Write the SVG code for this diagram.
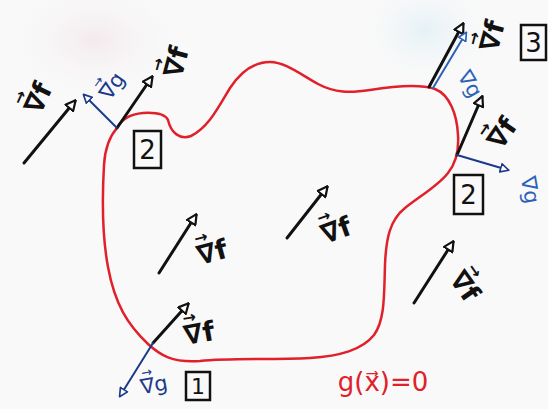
<svg xmlns="http://www.w3.org/2000/svg" width="548" height="409" viewBox="0 0 548 409">
  <defs>
    <marker id="hk" viewBox="0 0 12 12" refX="10" refY="6" markerWidth="12" markerHeight="12" markerUnits="userSpaceOnUse" orient="auto">
      <path d="M1,1 L11,6 L1,11 Z" fill="#fff" stroke="#111" stroke-width="2.2" stroke-linejoin="round"/>
    </marker>
    <marker id="hb" viewBox="0 0 12 12" refX="10" refY="6" markerWidth="10" markerHeight="10" markerUnits="userSpaceOnUse" orient="auto">
      <path d="M1,1 L11,6 L1,11 Z" fill="#fff" stroke="#1c3a8c" stroke-width="2" stroke-linejoin="round"/>
    </marker>
    <marker id="hl" viewBox="0 0 12 12" refX="10" refY="6" markerWidth="10" markerHeight="10" markerUnits="userSpaceOnUse" orient="auto">
      <path d="M1,1 L11,6 L1,11 Z" fill="#fff" stroke="#2b62b8" stroke-width="2" stroke-linejoin="round"/>
    </marker>
    <radialGradient id="smudge1" cx="0.5" cy="0.5" r="0.5">
      <stop offset="0" stop-color="#f1e6ea" stop-opacity="0.8"/>
      <stop offset="1" stop-color="#f8f8f8" stop-opacity="0"/>
    </radialGradient>
    <radialGradient id="smudge2" cx="0.5" cy="0.5" r="0.5">
      <stop offset="0" stop-color="#e0eff5" stop-opacity="0.8"/>
      <stop offset="1" stop-color="#f8f8f8" stop-opacity="0"/>
    </radialGradient>
    <style>
      .lbl { font-family: "DejaVu Sans", "Liberation Sans", sans-serif; font-size: 27px; font-weight: bold; fill: #111; text-anchor: middle; dominant-baseline: central; }
      .vec { font-family: "DejaVu Sans", "Liberation Sans", sans-serif; font-size: 16px; font-weight: bold; fill: #111; text-anchor: middle; dominant-baseline: central; }
      .lblb { font-family: "DejaVu Sans", "Liberation Sans", sans-serif; font-size: 21px; fill: #1c3a8c; text-anchor: middle; dominant-baseline: central; }
      .vecb { font-family: "DejaVu Sans", "Liberation Sans", sans-serif; font-size: 13px; fill: #1c3a8c; text-anchor: middle; dominant-baseline: central; }
      .lbll { font-family: "DejaVu Sans", "Liberation Sans", sans-serif; font-size: 21px; fill: #2b62b8; text-anchor: middle; dominant-baseline: central; }
      .box { fill: none; stroke: #111; stroke-width: 2.5; }
      .num { font-family: "DejaVu Sans", "Liberation Sans", sans-serif; font-size: 26px; fill: #111; text-anchor: middle; dominant-baseline: central; }
      .ak { stroke: #111; stroke-width: 3; fill: none; stroke-linecap: round; marker-end: url(#hk); }
      .ab { stroke: #1c3a8c; stroke-width: 2; fill: none; stroke-linecap: round; marker-end: url(#hb); }
      .al { stroke: #2b62b8; stroke-width: 2; fill: none; stroke-linecap: round; marker-end: url(#hl); }
    </style>
  </defs>

  <rect width="548" height="409" fill="#f9f9f9"/>
  <ellipse cx="95" cy="40" rx="90" ry="60" fill="url(#smudge1)"/>
  <ellipse cx="425" cy="30" rx="70" ry="55" fill="url(#smudge2)"/>

  <g id="constraint">
    <path d="M117,128 C122,118 132,114 143,113 C160,112 166,116 168,120 C171,133 180,140 191,136 C208,128 218,108 230,88 C242,70 255,62 270,62 C285,62 300,74 318,84 C335,93 350,93 370,90 C395,86 420,84 435,89 C450,95 457,115 458,135 C459,150 456,163 448,173 C438,186 420,196 405,208 C390,220 386,238 385,265 C384,295 385,320 374,335 C362,350 340,356 310,358 C270,360 230,358 200,361 C172,363 160,355 148,344 C128,325 115,305 108,267 C102,235 102,200 104,165 C105,148 110,136 117,128 Z" fill="none" stroke="#e0202a" stroke-width="2.5"/>
    <text x="383" y="382" style="font-family: 'DejaVu Sans', 'Liberation Sans', sans-serif; font-size: 26px; fill: #e0202a; text-anchor: middle; dominant-baseline: central;">g(x⃗)=0</text>
  </g>

  <g id="connectors">
    <line class="ak" x1="24" y1="163" x2="75" y2="101"/>
    <line class="ak" x1="117" y1="128" x2="152" y2="77"/>
    <line class="ab" x1="117" y1="128" x2="84" y2="95"/>
    <line class="ak" x1="429" y1="87" x2="463" y2="24"/>
    <line class="al" x1="433" y1="88" x2="466" y2="33"/>
    <line class="ak" x1="457" y1="155" x2="482" y2="97"/>
    <line class="ab" x1="457" y1="155" x2="508" y2="170"/>
    <line class="ak" x1="159" y1="273" x2="196" y2="215"/>
    <line class="ak" x1="287" y1="238" x2="327" y2="187"/>
    <line class="ak" x1="414" y1="303" x2="453" y2="242"/>
    <line class="ak" x1="153" y1="343" x2="188" y2="304"/>
    <line class="ab" x1="153" y1="343" x2="120" y2="396"/>
  </g>

  <g id="p2-left">
    <g transform="translate(38,98) rotate(-65)"><text class="lbl">∇f</text><text class="vec" x="-7" y="-17">→</text></g>
    <g transform="translate(176,62) rotate(-75)"><text class="lbl">∇f</text><text class="vec" x="-7" y="-17">→</text></g>
    <g transform="translate(112,86) rotate(-55)"><text class="lblb">∇g</text><text class="vecb" x="-5" y="-14">→</text></g>
    <rect class="box" x="134" y="131" width="27" height="37"/>
    <text class="num" x="147.5" y="150">2</text>
  </g>

  <g id="p3">
    <g transform="translate(492,36) rotate(-75)"><text class="lbl">∇f</text><text class="vec" x="-7" y="-17">→</text></g>
    <text class="lbll" transform="translate(470,84) rotate(60)">∇g</text>
    <rect class="box" x="521" y="25" width="25" height="35"/>
    <text class="num" x="533.5" y="43">3</text>
  </g>

  <g id="p2-right">
    <g transform="translate(502,133) rotate(-55)"><text class="lbl">∇f</text><text class="vec" x="-7" y="-17">→</text></g>
    <text class="lbll" transform="translate(530,190) rotate(80)">∇g</text>
    <rect class="box" x="454" y="175" width="29" height="39"/>
    <text class="num" x="468.5" y="195">2</text>
  </g>

  <g id="interior-a">
    <g transform="translate(212,252) rotate(-15)"><text class="lbl">∇f</text><text class="vec" x="-7" y="-17">→</text></g>
  </g>
  <g id="interior-b">
    <g transform="translate(336,230) rotate(-20)"><text class="lbl">∇f</text><text class="vec" x="-7" y="-17">→</text></g>
  </g>
  <g id="exterior-right">
    <g transform="translate(465,286) rotate(55)"><text class="lbl">∇f</text><text class="vec" x="-7" y="-17">→</text></g>
  </g>

  <g id="p1">
    <g transform="translate(199,333) rotate(-10)"><text class="lbl">∇f</text><text class="vec" x="-7" y="-17">→</text></g>
    <g transform="translate(154,385) rotate(-10)"><text class="lblb">∇g</text><text class="vecb" x="-5" y="-14">→</text></g>
    <rect class="box" x="186" y="372" width="24" height="28"/>
    <text class="num" x="198" y="386" style="font-size:22px">1</text>
  </g>
</svg>
